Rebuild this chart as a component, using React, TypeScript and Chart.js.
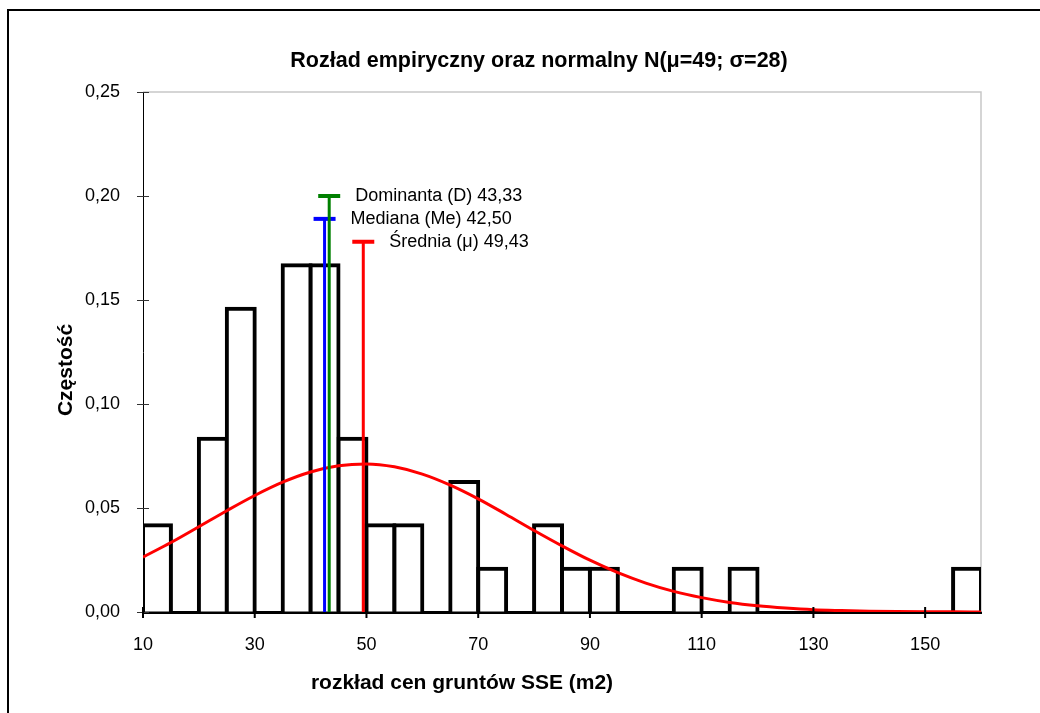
import React, { useEffect, useRef } from 'react';
import { Chart, registerables } from 'chart.js';

Chart.register(...registerables);

// Histogram bins (centres of 5-wide classes) and relative frequencies
const binCenters = [
  12.5, 17.5, 22.5, 27.5, 32.5, 37.5, 42.5, 47.5, 52.5, 57.5,
  62.5, 67.5, 72.5, 77.5, 82.5, 87.5, 92.5, 97.5, 102.5, 107.5,
  112.5, 117.5, 122.5, 127.5, 132.5, 137.5, 142.5, 147.5, 152.5, 157.5,
];
const frequencies = [
  0.0417, 0, 0.0833, 0.1458, 0, 0.1667, 0.1667, 0.0833, 0.0417, 0.0417,
  0, 0.0625, 0.0208, 0, 0.0417, 0.0208, 0.0208, 0, 0, 0.0208,
  0, 0.0208, 0, 0, 0, 0, 0, 0, 0, 0.0208,
];

// Normal curve
const curveX = [
  10, 15, 20, 25, 30, 35, 40, 45, 50, 55, 60, 65, 70, 75, 80, 85,
  90, 95, 100, 105, 110, 115, 120, 125, 130, 135, 140, 145, 150, 155, 160,
];
const curveY = [
  0.0264, 0.0334, 0.041, 0.0487, 0.056, 0.0624, 0.0673, 0.0703, 0.0712, 0.0698,
  0.0663, 0.061, 0.0544, 0.0469, 0.0392, 0.0318, 0.0249, 0.0189, 0.0139, 0.0099,
  0.0069, 0.0046, 0.003, 0.0019, 0.0011, 0.0007, 0.0004, 0.0002, 0.0001, 0.0001, 0.0,
];

// Statistics markers
const statNames = ['Dominanta (D)', 'Mediana (Me)', 'Średnia (μ)'];
const statValues = [43.33, 42.5, 49.43];
const statTops = [0.2, 0.189, 0.178];
const statColors = ['#008000', '#0000FF', '#FF0000'];

// Axes
const xTickValues = [10, 30, 50, 70, 90, 110, 130, 150];
const xTickLabels = ['10', '30', '50', '70', '90', '110', '130', '150'];
const yTickValues = [0, 0.05, 0.1, 0.15, 0.2, 0.25];
const yTickLabels = ['0,00', '0,05', '0,10', '0,15', '0,20', '0,25'];

const chartTitle = 'Rozład empiryczny oraz normalny N(μ=49; σ=28)';
const xTitle = 'rozkład cen gruntów SSE (m2)';
const yTitle = 'Częstość';

const FONT = '"Liberation Sans", Arial, sans-serif';

const fmt = (v: number) => v.toFixed(2).replace('.', ',');

export default function App() {
  const ref = useRef<HTMLCanvasElement>(null);

  useEffect(() => {
    document.body.style.margin = '0';
    document.body.style.overflow = 'hidden';
    const canvas = ref.current;
    if (!canvas) return;

    const decor = {
      id: 'decor',
      beforeDatasetsDraw(chart: any) {
        const { ctx, chartArea: a } = chart;
        ctx.save();
        ctx.strokeStyle = '#c8c8c8';
        ctx.lineWidth = 1.5;
        ctx.beginPath();
        ctx.moveTo(a.left, a.top);
        ctx.lineTo(a.right, a.top);
        ctx.lineTo(a.right, a.bottom);
        ctx.stroke();
        ctx.restore();
      },
      afterDatasetsDraw(chart: any) {
        const { ctx } = chart;
        const xs = chart.scales.x;
        const ys = chart.scales.y;
        ctx.save();
        ctx.fillStyle = '#000';
        ctx.font = `18px ${FONT}`;
        ctx.textAlign = 'left';
        ctx.textBaseline = 'middle';
        statNames.forEach((n, i) => {
          const px = xs.getPixelForValue(statValues[i]) + 26;
          const py = ys.getPixelForValue(statTops[i]);
          ctx.fillText(`${n} ${fmt(statValues[i])}`, px, py);
        });
        ctx.restore();
      },
      afterDraw(chart: any) {
        const { ctx, chartArea: a } = chart;
        const xs = chart.scales.x;
        const ys = chart.scales.y;
        ctx.save();
        // outer frame
        ctx.strokeStyle = '#000';
        ctx.lineWidth = 2;
        ctx.beginPath();
        ctx.moveTo(8, 720);
        ctx.lineTo(8, 10);
        ctx.lineTo(1050, 10);
        ctx.stroke();
        // tick marks
        ctx.strokeStyle = '#333';
        ctx.lineWidth = 1;
        yTickValues.forEach((v) => {
          const y = Math.round(ys.getPixelForValue(v)) + 0.5;
          ctx.beginPath();
          ctx.moveTo(a.left - 6, y);
          ctx.lineTo(a.left + 6, y);
          ctx.stroke();
        });
        ctx.strokeStyle = '#000';
        ctx.lineWidth = 2;
        xTickValues.forEach((v) => {
          const x = xs.getPixelForValue(v);
          ctx.beginPath();
          ctx.moveTo(x, a.bottom - 5);
          ctx.lineTo(x, a.bottom + 6);
          ctx.stroke();
        });
        // titles
        ctx.fillStyle = '#000';
        ctx.textAlign = 'center';
        ctx.textBaseline = 'middle';
        ctx.font = `bold 21.5px ${FONT}`;
        ctx.fillText(chartTitle, 539, 61);
        ctx.font = `bold 21px ${FONT}`;
        ctx.fillText(xTitle, 462, 683);
        ctx.translate(66, 370);
        ctx.rotate(-Math.PI / 2);
        ctx.fillText(yTitle, 0, 0);
        ctx.restore();
      },
    };

    const chart = new Chart(canvas, {
      type: 'bar',
      data: {
        datasets: [
          ...statValues.map((v, i) => ({
            type: 'line' as const,
            data: [
              { x: v, y: 0 },
              { x: v, y: statTops[i] },
            ],
            borderColor: statColors[i],
            borderWidth: 3,
            pointStyle: 'line' as const,
            pointRadius: [0, 11],
            pointHoverRadius: [0, 11],
            pointBorderWidth: 4,
            pointBorderColor: statColors[i],
            fill: false,
            clip: false as any,
          })),
          {
            type: 'line' as const,
            data: curveX.map((x, i) => ({ x, y: curveY[i] })),
            borderColor: '#FF0000',
            borderWidth: 3,
            pointRadius: 0,
            cubicInterpolationMode: 'monotone' as const,
            fill: false,
          },
          {
            type: 'bar' as const,
            data: binCenters.map((x, i) => ({ x, y: frequencies[i] })),
            backgroundColor: '#ffffff',
            borderColor: '#000000',
            borderWidth: 4,
            borderSkipped: 'start' as const,
            inflateAmount: 2,
            barPercentage: 1,
            categoryPercentage: 1,
          },
        ] as any,
      },
      options: {
        responsive: false,
        animation: false,
        devicePixelRatio: 1,
        layout: { padding: { top: 92, right: 59, left: 0, bottom: 0 } },
        plugins: {
          legend: { display: false },
          tooltip: { enabled: false },
          title: { display: false },
        },
        scales: {
          x: {
            type: 'linear',
            min: 10,
            max: 160,
            offset: false,
            grid: { display: true, drawOnChartArea: false, drawTicks: false, offset: false },
            border: { display: true, color: '#000', width: 3 },
            ticks: {
              color: '#000',
              font: { family: FONT, size: 18 },
              padding: 22,
              maxRotation: 0,
              autoSkip: false,
              callback: (_v: any, i: number) => xTickLabels[i],
            },
            afterBuildTicks: (s: any) => {
              s.ticks = xTickValues.map((v) => ({ value: v }));
            },
            afterFit: (s: any) => {
              s.height = 101;
            },
          },
          y: {
            type: 'linear',
            min: 0,
            max: 0.25,
            grid: { display: true, drawOnChartArea: false, drawTicks: false },
            border: { display: true, color: '#000', width: 1 },
            ticks: {
              color: '#000',
              font: { family: FONT, size: 18 },
              padding: 23,
              autoSkip: false,
              callback: (_v: any, i: number) => yTickLabels[i],
            },
            afterBuildTicks: (s: any) => {
              s.ticks = yTickValues.map((v) => ({ value: v }));
            },
            afterFit: (s: any) => {
              s.width = 143;
            },
          },
        },
      } as any,
      plugins: [decor],
    });

    return () => chart.destroy();
  }, []);

  return <canvas ref={ref} width={1040} height={713} style={{ display: 'block' }} />;
}
